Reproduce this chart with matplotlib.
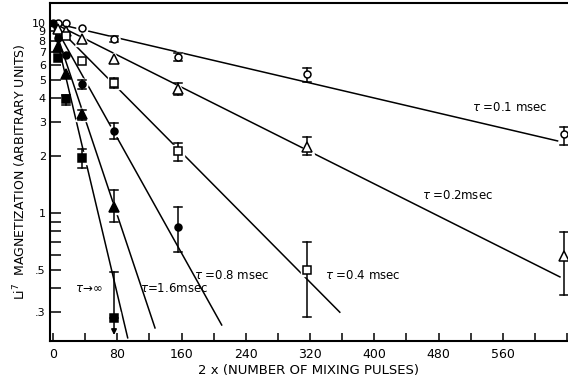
import numpy as np
import matplotlib
matplotlib.use("Agg")
import matplotlib.pyplot as plt

# datos (2x = numero de pulsos)
x_all = [6, 16, 36, 76, 156, 316, 636]

m01 = [10, 10, 9.4, 8.24, 6.63, 5.39, 2.6]
m02 = [9.3, 9.1, 8.24, 6.45, 4.49, 2.22, 0.59]
x04 = [16, 36, 76, 156, 316]
m04 = [8.5, 6.3, 4.83, 2.12, 0.50]
x08 = [6, 16, 36, 76, 156]
m08 = [8.35, 6.79, 4.77, 2.70, 0.84]
x16 = [6, 16, 36, 76]
m16 = [7.47, 5.39, 3.32, 1.075]
xinf = [6, 16, 36, 76]
minf = [6.52, 3.98, 1.95, 0.28]

# barras de error: (x, abajo, arriba)
err01 = [(76, 7.93, 8.55), (156, 6.31, 6.95), (316, 4.89, 5.80), (636, 2.28, 2.84)]
err02 = [(156, 4.17, 4.83), (316, 2.02, 2.51), (636, 0.37, 0.794)]
err04 = [(76, 4.54, 5.13), (156, 1.88, 2.33), (316, 0.284, 0.70)]
err08 = [(36, 4.49, 5.0), (76, 2.45, 2.97), (156, 0.623, 1.075)]
err16 = [(36, 3.08, 3.48), (76, 0.897, 1.32)]
errinf = [(16, 3.70, 4.17), (36, 1.72, 2.17), (76, 0.28, 0.49)]

# rectas de ajuste: parten de (0, 10) y terminan en (x_fin, valor)
fin01 = (628, 2.39)
fin02 = (631, 0.46)
fin04 = (357, 0.30)
fin08 = (210, 0.257)
fin16 = (127, 0.248)
fininf = (93, 0.22)

fig = plt.figure(figsize=(5.68, 3.83), dpi=100)
ax = fig.add_axes([0.088, 0.110, 0.912, 0.882])
ax.set_yscale("log")

series = [
    (x_all, m01, err01, fin01, "o", "white", 5),
    (x_all, m02, err02, fin02, "^", "white", 7),
    (x04, m04, err04, fin04, "s", "white", 6),
    (x08, m08, err08, fin08, "o", "black", 5),
    (x16, m16, err16, fin16, "^", "black", 7),
    (xinf, minf, errinf, fininf, "s", "black", 6),
]

for xs, ys, errs, fin, mk, fc, ms in series:
    ax.plot([0, fin[0]], [10, fin[1]], color="black", lw=1.1, zorder=2)
    # halo blanco para cortar la recta alrededor de los puntos
    ax.plot(xs[2:], ys[2:], ls="none", marker=mk, ms=ms + 3, color="white",
            zorder=3)
    for xe, lo, hi in errs:
        ax.plot([xe, xe], [lo, hi], color="black", lw=1.1, zorder=4)
        ax.plot([xe - 5, xe + 5], [lo, lo], color="black", lw=1.1, zorder=4)
        ax.plot([xe - 5, xe + 5], [hi, hi], color="black", lw=1.1, zorder=4)
    ax.plot(xs, ys, ls="none", marker=mk, ms=ms, mfc=fc, mec="black",
            mew=1.1, zorder=5)

# punto inicial normalizado
ax.plot([0], [10], "o", ms=5, color="black", clip_on=False, zorder=6)
# flecha del ultimo punto tau -> infinito
ax.annotate("", xy=(76, 0.22), xytext=(76, 0.28),
            arrowprops=dict(arrowstyle="-|>", color="black", lw=1.1,
                            mutation_scale=8), zorder=6)

# etiquetas
kw = dict(fontsize=8.5, color="black", ha="center", va="center")
ax.text(569, 3.57, r"$\tau$ =0.1 msec", **kw)
ax.text(503, 1.23, r"$\tau$ =0.2msec", **kw)
ax.text(385, 0.47, r"$\tau$ =0.4 msec", **kw)
ax.text(222, 0.47, r"$\tau$ =0.8 msec", **kw)
ax.text(151, 0.40, r"$\tau$=1.6msec", **kw)
ax.text(45, 0.40, r"$\tau\!\rightarrow\!\infty$", **kw)

ax.set_xlim(-3.7, 641)
ax.set_ylim(0.212, 12.7)

ax.set_xticks(np.arange(0, 561, 80))
ax.set_xticks(np.arange(40, 641, 40), minor=True)
ax.set_xticklabels([str(v) for v in range(0, 561, 80)], fontsize=9)

yt = [0.3, 0.4, 0.5, 0.6, 0.7, 0.8, 0.9, 1, 2, 3, 4, 5, 6, 7, 8, 9, 10]
ytl = [".3", "", ".5", "", "", "", "", "1", "2", "3", "4", "5", "6", "7",
       "8", "9", "10"]
ax.set_yticks(yt)
ax.set_yticklabels(ytl, fontsize=8)
ax.yaxis.set_minor_locator(matplotlib.ticker.NullLocator())

ax.tick_params(axis="both", which="both", direction="in", width=1.1)
ax.tick_params(axis="y", length=8, pad=3)
ax.tick_params(axis="x", which="major", length=6, pad=5)
ax.tick_params(axis="x", which="minor", length=6)

for s in ["left", "bottom", "top"]:
    ax.spines[s].set_linewidth(1.5)
ax.spines["right"].set_visible(False)

ax.set_xlabel("2 x (NUMBER OF MIXING PULSES)", fontsize=9.5, labelpad=2)
ax.set_ylabel(r"Li$^7$  MAGNETIZATION (ARBITRARY UNITS)", fontsize=9,
              labelpad=2)

fig.savefig("out.png", dpi=100)
